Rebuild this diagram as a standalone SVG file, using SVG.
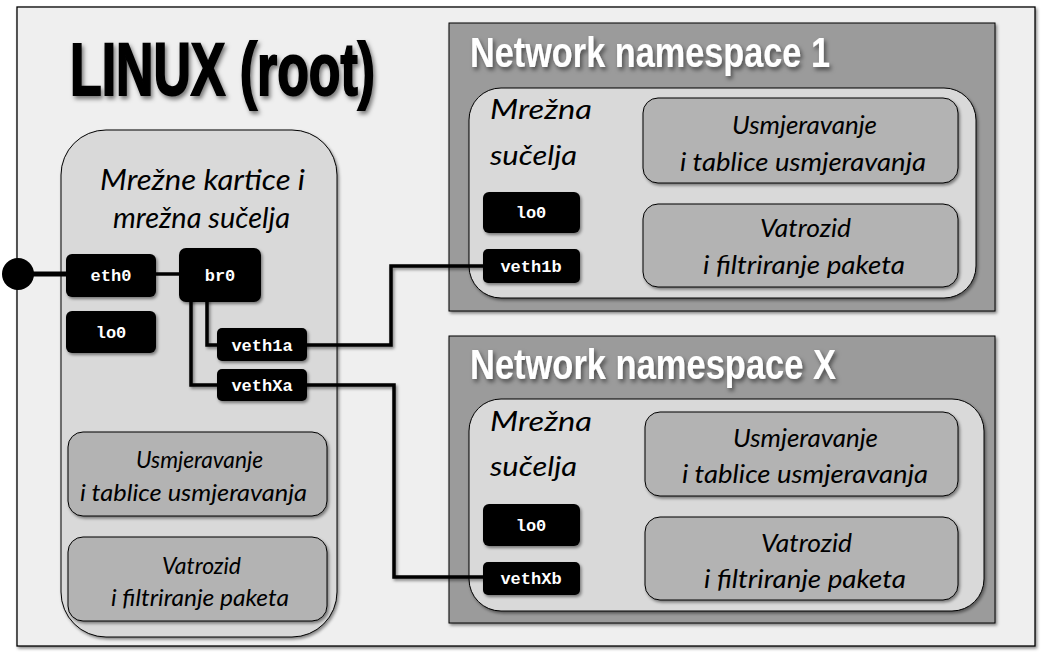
<svg xmlns="http://www.w3.org/2000/svg" width="1041" height="654" viewBox="0 0 1041 654">
<defs>
<filter id="sh" x="-10%" y="-10%" width="125%" height="130%">
<feDropShadow dx="1.5" dy="2" stdDeviation="1.8" flood-color="#000" flood-opacity="0.45"/>
</filter>
<filter id="tsh" x="-5%" y="-10%" width="115%" height="130%">
<feDropShadow dx="2" dy="3" stdDeviation="2" flood-color="#000" flood-opacity="0.5"/>
</filter>
<style>
.frame{fill:#efefef;stroke:#000;stroke-width:1.3}
.ns{fill:#9b9b9b;stroke:#000;stroke-width:1}
.inner{fill:#d9d9d9;stroke:#000;stroke-width:1}
.sub{fill:#b3b3b3;stroke:#000;stroke-width:1}
.if{fill:#000}
.ift{font-family:"Liberation Mono",monospace;font-weight:bold;font-size:17px;fill:#fff;text-anchor:middle}
.hw{font-family:Lato,"Open Sans",sans-serif;font-style:italic;fill:#000}
.title{font-family:"Liberation Sans",Arial,sans-serif;font-weight:bold}
.wire{fill:none;stroke:#000;stroke-width:3.5;stroke-linejoin:miter}
</style>
</defs>
<g id="root-frame">
<rect class="frame" x="17" y="7" width="1018" height="639" filter="url(#sh)"/>
<text class="title" x="70" y="95" font-size="74" textLength="305" lengthAdjust="spacingAndGlyphs" stroke="#000" stroke-width="2" filter="url(#tsh)">LINUX (root)</text>
</g>
<g id="root-nics">
<rect class="inner" x="61" y="130" width="276" height="507" rx="45" filter="url(#sh)"/>
<text class="hw" x="100" y="190" font-size="29" textLength="205" lengthAdjust="spacingAndGlyphs">Mrežne kartice i</text>
<text class="hw" x="113" y="228" font-size="29" textLength="177" lengthAdjust="spacingAndGlyphs">mrežna sučelja</text>
</g>
<g id="root-routing">
<rect class="sub" x="68" y="432" width="259" height="84" rx="15" filter="url(#sh)"/>
<text class="hw" x="136" y="468" font-size="23" textLength="127" lengthAdjust="spacingAndGlyphs">Usmjeravanje</text>
<text class="hw" x="80" y="501" font-size="23" textLength="227" lengthAdjust="spacingAndGlyphs">i  tablice usmjeravanja</text>
</g>
<g id="root-firewall">
<rect class="sub" x="68" y="537" width="259" height="84" rx="15" filter="url(#sh)"/>
<text class="hw" x="162" y="574" font-size="23" textLength="79" lengthAdjust="spacingAndGlyphs">Vatrozid</text>
<text class="hw" x="111" y="606" font-size="23" textLength="178" lengthAdjust="spacingAndGlyphs">i filtriranje paketa</text>
</g>
<g id="ns1">
<rect class="ns" x="449" y="23" width="546" height="288" filter="url(#sh)"/>
<text class="title" x="470" y="67" font-size="42" fill="#fff" textLength="360" lengthAdjust="spacingAndGlyphs" filter="url(#tsh)">Network  namespace 1</text>
<rect class="inner" x="469" y="88" width="507" height="210" rx="32" filter="url(#sh)"/>
<text class="hw" x="490" y="119" font-size="27" textLength="102" lengthAdjust="spacingAndGlyphs">Mrežna</text>
<text class="hw" x="490" y="165" font-size="27" textLength="87" lengthAdjust="spacingAndGlyphs">sučelja</text>
</g>
<g id="ns1-routing">
<rect class="sub" x="643" y="98" width="315" height="85" rx="15" filter="url(#sh)"/>
<text class="hw" x="732" y="134" font-size="25" textLength="145" lengthAdjust="spacingAndGlyphs">Usmjeravanje</text>
<text class="hw" x="680" y="171" font-size="25" textLength="246" lengthAdjust="spacingAndGlyphs">i  tablice usmjeravanja</text>
</g>
<g id="ns1-firewall">
<rect class="sub" x="643" y="204" width="315" height="83" rx="15" filter="url(#sh)"/>
<text class="hw" x="760" y="237" font-size="25" textLength="91" lengthAdjust="spacingAndGlyphs">Vatrozid</text>
<text class="hw" x="703" y="274" font-size="25" textLength="202" lengthAdjust="spacingAndGlyphs">i filtriranje paketa</text>
</g>
<g id="nsX">
<rect class="ns" x="449" y="336" width="546" height="287" filter="url(#sh)"/>
<text class="title" x="470" y="379" font-size="42" fill="#fff" textLength="366" lengthAdjust="spacingAndGlyphs" filter="url(#tsh)">Network  namespace X</text>
<rect class="inner" x="469" y="399" width="515" height="212" rx="32" filter="url(#sh)"/>
<text class="hw" x="490" y="431" font-size="27" textLength="102" lengthAdjust="spacingAndGlyphs">Mrežna</text>
<text class="hw" x="490" y="476" font-size="27" textLength="87" lengthAdjust="spacingAndGlyphs">sučelja</text>
</g>
<g id="nsX-routing">
<rect class="sub" x="645" y="412" width="313" height="84" rx="15" filter="url(#sh)"/>
<text class="hw" x="733" y="447" font-size="25" textLength="145" lengthAdjust="spacingAndGlyphs">Usmjeravanje</text>
<text class="hw" x="682" y="483" font-size="25" textLength="246" lengthAdjust="spacingAndGlyphs">i  tablice usmjeravanja</text>
</g>
<g id="nsX-firewall">
<rect class="sub" x="645" y="517" width="313" height="83" rx="15" filter="url(#sh)"/>
<text class="hw" x="761" y="552" font-size="25" textLength="91" lengthAdjust="spacingAndGlyphs">Vatrozid</text>
<text class="hw" x="704" y="588" font-size="25" textLength="202" lengthAdjust="spacingAndGlyphs">i filtriranje paketa</text>
</g>
<g id="connectors">
<circle cx="18" cy="274" r="16" fill="#000"/>
<line x1="18" y1="274" x2="70" y2="274" stroke="#000" stroke-width="5"/>
<line x1="150" y1="274" x2="185" y2="274" stroke="#000" stroke-width="3.5"/>
<polyline class="wire" points="207,296 207,345 222,345" filter="url(#sh)"/>
<polyline class="wire" points="191,296 191,385 222,385" filter="url(#sh)"/>
<polyline class="wire" points="303,345 391,345 391,266 488,266" filter="url(#sh)"/>
<polyline class="wire" points="303,385 394,385 394,577 488,577" filter="url(#sh)"/>
</g>
<g id="eth0"><rect class="if" x="66" y="254" width="90" height="43" rx="6" filter="url(#sh)"/><text class="ift" x="111" y="281">eth0</text></g>
<g id="br0"><rect class="if" x="179" y="248" width="82" height="54" rx="7" filter="url(#sh)"/><text class="ift" x="220" y="281">br0</text></g>
<g id="lo0-root"><rect class="if" x="66" y="311" width="90" height="42" rx="6" filter="url(#sh)"/><text class="ift" x="111" y="338">lo0</text></g>
<g id="veth1a"><rect class="if" x="217" y="328" width="90" height="33" rx="5" filter="url(#sh)"/><text class="ift" x="262" y="351">veth1a</text></g>
<g id="vethXa"><rect class="if" x="217" y="369" width="90" height="32" rx="5" filter="url(#sh)"/><text class="ift" x="262" y="391">vethXa</text></g>
<g id="lo0-ns1"><rect class="if" x="483" y="192" width="97" height="41" rx="6" filter="url(#sh)"/><text class="ift" x="531" y="218">lo0</text></g>
<g id="veth1b"><rect class="if" x="483" y="249" width="97" height="34" rx="5" filter="url(#sh)"/><text class="ift" x="531" y="272">veth1b</text></g>
<g id="lo0-nsX"><rect class="if" x="483" y="504" width="97" height="42" rx="6" filter="url(#sh)"/><text class="ift" x="531" y="531">lo0</text></g>
<g id="vethXb"><rect class="if" x="483" y="562" width="97" height="33" rx="5" filter="url(#sh)"/><text class="ift" x="531" y="584">vethXb</text></g>
</svg>
